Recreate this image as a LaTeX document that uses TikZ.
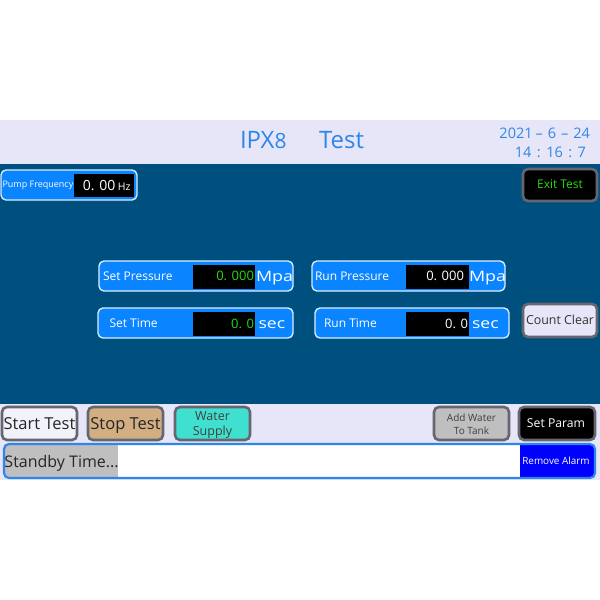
\documentclass[tikz,border=0pt]{standalone}
\usepackage{graphicx}
\usepackage{fontspec}
\setmainfont{Open Sans}
\definecolor{band}{HTML}{E6E6F8}
\definecolor{panel}{HTML}{00507F}
\definecolor{azure}{HTML}{0A84FF}
\definecolor{titleblue}{HTML}{2E86E8}
\definecolor{btnedge}{HTML}{666670}
\definecolor{lime}{HTML}{22DD11}
\definecolor{tan}{HTML}{D2AF82}
\definecolor{turq}{HTML}{40E0D0}
\newcommand{\fs}[1]{\fontsize{#1}{#1}\selectfont}
\newcommand{\wideunit}[2]{\scalebox{#1}[0.9]{\fs{16}#2}}
\tikzset{
  x=1pt,y=-1pt,
  lbl/.style={inner sep=0pt,outer sep=0pt,text=#1},
  field/.style={draw=white!85!azure,fill=azure,line width=1.35pt,rounded corners=5pt},
  readout/.style={fill=black,draw=none},
  btn/.style={draw=btnedge,line width=2.6pt,rounded corners=5pt,fill=#1},
}
\begin{document}
\begin{tikzpicture}
\useasboundingbox (0,0) rectangle (600,600);
\fill[white] (0,0) rectangle (600,600);
\fill[band] (0,120) rectangle (600,480);
\fill[panel] (0,164) rectangle (600,404);
% title
\node[lbl=titleblue,anchor=base west] (t1) at (240,148) {\fs{24}IPX\fs{21}8};
\node[lbl=titleblue,anchor=base west] (t2) at (319,148) {\fs{24}Test};
\node[lbl=titleblue,anchor=base east] (d1) at (590,138) {\fs{14.5}2021\kern3pt–\kern5pt6\kern5pt–\kern5pt24};
\node[lbl=titleblue,anchor=base east] (d2) at (586,157) {\fs{14.5}14\kern5.5pt:\kern5.5pt16\kern5.5pt:\kern5.5pt7};
% pump
\draw[field] (1,170) rectangle (137,200);
\fill[readout] (74,174) rectangle (134,197);
\node[lbl=white,anchor=west] (pf) at (2.5,185) {\fs{9}Pump Frequency};
\node[lbl=white,anchor=base east] (pv) at (115.5,190) {\fs{14}0. 00};
\node[lbl=white,anchor=base east] (pu) at (130.5,190) {\fs{10.5}Hz};
% set pressure
\draw[field] (99,261) rectangle (293,291);
\fill[readout] (193,265) rectangle (255,289);
\node[lbl=white,anchor=west] (sp) at (103,276) {\fs{12}Set Pressure};
\node[lbl=lime,anchor=base east] (spv) at (254,280.5) {\fs{13}0. 000};
\node[lbl=white,anchor=base west] (spu) at (256,281.5) {\wideunit{1.12}{Mpa}};
% set time
\draw[field] (98,308) rectangle (293,338);
\fill[readout] (193,312) rectangle (255,336);
\node[lbl=white,anchor=west] (st) at (109.5,323) {\fs{12}Set Time};
\node[lbl=lime,anchor=base east] (stv) at (254,328) {\fs{13}0. 0};
\node[lbl=white,anchor=base west] (stu) at (258.5,328.5) {\wideunit{1.1}{sec}};
% run pressure
\draw[field] (312,261) rectangle (505,291);
\fill[readout] (406,265) rectangle (469,289);
\node[lbl=white,anchor=west] (rp) at (315,276) {\fs{12}Run Pressure};
\node[lbl=white,anchor=base east] (rpv) at (464,280.5) {\fs{13}0. 000};
\node[lbl=white,anchor=base west] (rpu) at (469,281.5) {\wideunit{1.12}{Mpa}};
% run time
\draw[field] (315,308) rectangle (509,338);
\fill[readout] (406,312) rectangle (469,336);
\node[lbl=white,anchor=west] (rt) at (324,323) {\fs{12}Run Time};
\node[lbl=white,anchor=base east] (rtv) at (468,328) {\fs{13}0. 0};
\node[lbl=white,anchor=base west] (rtu) at (472,328.5) {\wideunit{1.1}{sec}};
% buttons
\draw[btn=black] (523,169) rectangle (597,201);
\node[lbl=lime,anchor=center] (exit) at (560,184.5) {\fs{12}Exit Test};
\draw[btn=band] (523,304) rectangle (597,337);
\node[lbl=black!80,anchor=center] (cc) at (560,320) {\fs{12.4}Count Clear};
\draw[btn=band!50!white] (2,407) rectangle (77,440);
\node[lbl=black!85,anchor=base] (start) at (39.5,429) {\fs{16.5}Start Test};
\draw[btn=tan] (88,407) rectangle (163,440);
\node[lbl=black!85,anchor=base] (stop) at (125.5,429) {\fs{16.5}Stop Test};
\draw[btn=turq] (175,407) rectangle (250,440);
\node[lbl=black!75,anchor=center,align=center,font=\fontsize{12.5}{15}\selectfont] (water) at (212.5,425) {Water\\Supply};
\draw[btn=black!25] (434,407) rectangle (509,440);
\node[lbl=black!75,anchor=center,align=center,font=\fontsize{10}{12.5}\selectfont] (add) at (471.5,424) {Add Water\\To Tank};
\draw[btn=black] (519,407) rectangle (595,440);
\node[lbl=white,anchor=center] (param) at (556,423.5) {\fs{12.2}Set Param};
% status bar
\fill[white,rounded corners=5pt] (4,444) rectangle (595,478);
\begin{scope}
\clip[rounded corners=5pt] (4,444) rectangle (595,478);
\fill[black!25] (4,444) rectangle (118,478);
\fill[blue] (520,444) rectangle (595,478);
\end{scope}
\draw[titleblue,line width=2.2pt,rounded corners=5pt] (4,444) rectangle (595,478);
\node[lbl=black!85,anchor=base west] (standby) at (4.5,467) {\fs{16}Standby Time...};
\node[lbl=white,anchor=center] (alarm) at (556,461) {\fs{9.9}Remove Alarm};
\end{tikzpicture}
\end{document}
